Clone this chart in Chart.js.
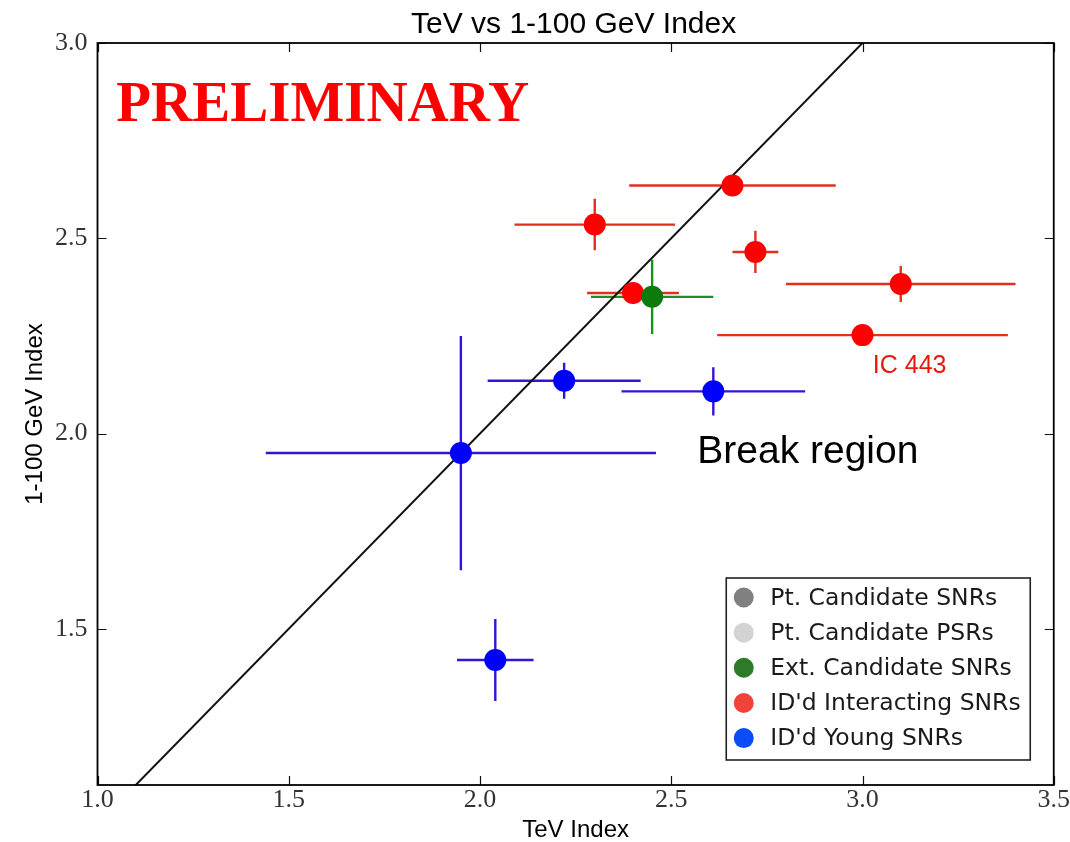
<!DOCTYPE html>
<html>
<head>
<meta charset="utf-8">
<title>TeV vs 1-100 GeV Index</title>
<script src="https://cdn.jsdelivr.net/npm/chart.js@4.4.1/dist/chart.umd.min.js"></script>
<style>
  html, body { margin: 0; padding: 0; background: #fff; }
  canvas { display: block; }
</style>
</head>
<body>
<canvas id="myChart" width="1070" height="842"></canvas>
<script>
// axis ticks
const xTicks = [1.0, 1.5, 2.0, 2.5, 3.0, 3.5];
const yTicks = [1.5, 2.0, 2.5, 3.0];
// y = x reference line, end values
const diagonal = [1.0, 3.5];

// Ext. Candidate SNRs
const extX = [2.45];
const extY = [2.35];
const extXErr = [0.16];
const extYErr = [0.095];

// ID'd Interacting SNRs
const intX = [2.66, 2.30, 2.72, 3.10, 3.00, 2.40];
const intY = [2.635, 2.535, 2.465, 2.383, 2.252, 2.36];
const intXErr = [0.27, 0.21, 0.06, 0.30, 0.38, 0.12];
const intYErr = [0, 0.066, 0.054, 0.046, 0, 0.028];

// ID'd Young SNRs
const youngX = [1.95, 2.22, 2.61, 2.04];
const youngY = [1.95, 2.135, 2.108, 1.42];
const youngXErr = [0.51, 0.20, 0.24, 0.10];
const youngYErr = [0.30, 0.046, 0.062, 0.105];

const seriesLabels = ["Pt. Candidate SNRs", "Pt. Candidate PSRs", "Ext. Candidate SNRs", "ID'd Interacting SNRs", "ID'd Young SNRs"];

const toPoints = (xs, ys) => xs.map((x, i) => ({ x, y: ys[i] }));

// error bars, inward ticks, frame, legend box and text labels
const decorations = {
  id: "decorations",
  beforeDatasetsDraw(chart) {
    const { ctx, chartArea: a, scales: { x, y } } = chart;
    ctx.save();
    ctx.beginPath();
    ctx.rect(a.left, a.top, a.right - a.left, a.bottom - a.top);
    ctx.clip();
    ctx.lineWidth = 2.4;
    chart.data.datasets.forEach((ds) => {
      if (!ds.xErr) return;
      ctx.strokeStyle = ds.barColor;
      ds.data.forEach((p, i) => {
        const px = x.getPixelForValue(p.x);
        const py = y.getPixelForValue(p.y);
        ctx.beginPath();
        ctx.moveTo(x.getPixelForValue(p.x - ds.xErr[i]), py);
        ctx.lineTo(x.getPixelForValue(p.x + ds.xErr[i]), py);
        if (ds.yErr[i] > 0) {
          ctx.moveTo(px, y.getPixelForValue(p.y - ds.yErr[i]));
          ctx.lineTo(px, y.getPixelForValue(p.y + ds.yErr[i]));
        }
        ctx.stroke();
      });
    });
    ctx.restore();
  },
  afterDraw(chart) {
    const { ctx, chartArea: a, scales: { x, y } } = chart;
    ctx.save();

    // ticks pointing inward on all four sides
    ctx.strokeStyle = "#111";
    ctx.lineWidth = 1.2;
    const tl = 9;
    ctx.beginPath();
    xTicks.forEach((v) => {
      const px = Math.round(x.getPixelForValue(v)) + 0.5;
      ctx.moveTo(px, a.top); ctx.lineTo(px, a.top + tl);
      ctx.moveTo(px, a.bottom); ctx.lineTo(px, a.bottom - tl);
    });
    yTicks.forEach((v) => {
      const py = Math.round(y.getPixelForValue(v)) + 0.5;
      ctx.moveTo(a.left, py); ctx.lineTo(a.left + tl, py);
      ctx.moveTo(a.right, py); ctx.lineTo(a.right - tl, py);
    });
    ctx.stroke();

    // frame
    ctx.lineWidth = 1.8;
    ctx.strokeStyle = "#000";
    ctx.strokeRect(a.left, a.top, a.right - a.left, a.bottom - a.top);

    // title
    ctx.fillStyle = "#000";
    ctx.font = "30px 'Liberation Sans', Arial, sans-serif";
    ctx.textAlign = "center";
    ctx.textBaseline = "alphabetic";
    ctx.fillText("TeV vs 1-100 GeV Index", (a.left + a.right) / 2 - 2, 32.5);

    // in-plot labels
    ctx.textAlign = "left";
    ctx.fillStyle = "#ff0000";
    ctx.font = "bold 57px 'Liberation Serif', 'Times New Roman', serif";
    ctx.fillText("PRELIMINARY", x.getPixelForValue(1.049), y.getPixelForValue(2.801));

    ctx.fillStyle = "#e8180c";
    ctx.font = "25px 'Liberation Sans', Arial, sans-serif";
    ctx.fillText("IC 443", x.getPixelForValue(3.027), y.getPixelForValue(2.155));

    ctx.fillStyle = "#000";
    ctx.font = "39px 'Liberation Sans', Arial, sans-serif";
    ctx.fillText("Break region", x.getPixelForValue(2.568), y.getPixelForValue(1.924));

    // legend box
    const items = chart.data.datasets.filter((ds) => ds.legendColor);
    const bw = 304, bh = 182;
    const bx = a.right - 23.5 - bw;
    const by = a.bottom - 25 - bh;
    ctx.fillStyle = "#fff";
    ctx.fillRect(bx, by, bw, bh);
    ctx.lineWidth = 1.6;
    ctx.strokeStyle = "#222";
    ctx.strokeRect(bx, by, bw, bh);
    ctx.font = "23.5px 'DejaVu Sans', sans-serif";
    ctx.textBaseline = "middle";
    items.forEach((ds, i) => {
      const cy = by + 19.5 + i * 35.15;
      ctx.fillStyle = ds.legendColor;
      ctx.beginPath();
      ctx.arc(bx + 17.5, cy, 10, 0, Math.PI * 2);
      ctx.fill();
      ctx.fillStyle = "#1a1a1a";
      ctx.fillText(ds.label, bx + 44, cy + 1);
    });

    ctx.restore();
  },
};

const chartCanvas = document.getElementById("myChart");

new Chart(chartCanvas, {
  type: "scatter",
  data: {
    datasets: [
      {
        type: "line",
        label: "y = x",
        data: diagonal.map((v) => ({ x: v, y: v })),
        borderColor: "#111",
        borderWidth: 2,
        pointRadius: 0,
        fill: false,
        order: 2,
      },
      {
        label: seriesLabels[0],
        data: [],
        legendColor: "#808080",
        backgroundColor: "#808080",
      },
      {
        label: seriesLabels[1],
        data: [],
        legendColor: "#d3d3d3",
        backgroundColor: "#d3d3d3",
      },
      {
        label: seriesLabels[2],
        data: toPoints(extX, extY),
        xErr: extXErr,
        yErr: extYErr,
        barColor: "#1f8f1f",
        legendColor: "#2d7a28",
        backgroundColor: "#0d7a0d",
        borderWidth: 0,
        pointRadius: 11,
      },
      {
        label: seriesLabels[3],
        data: toPoints(intX, intY),
        xErr: intXErr,
        yErr: intYErr,
        barColor: "#e2301c",
        legendColor: "#f0433a",
        backgroundColor: "#ff0000",
        borderWidth: 0,
        pointRadius: 11,
      },
      {
        label: seriesLabels[4],
        data: toPoints(youngX, youngY),
        xErr: youngXErr,
        yErr: youngYErr,
        barColor: "#3412d6",
        legendColor: "#0a4cf5",
        backgroundColor: "#0000ff",
        borderWidth: 0,
        pointRadius: 11,
      },
    ],
  },
  options: {
    responsive: false,
    animation: false,
    events: [],
    layout: {
      padding: { top: 43, right: 15, bottom: 0, left: 0 },
    },
    plugins: {
      legend: { display: false },
      tooltip: { enabled: false },
      title: { display: false },
    },
    scales: {
      x: {
        type: "linear",
        min: 1.0,
        max: 3.5,
        afterFit: (s) => { s.height = 57; },
        afterBuildTicks: (s) => { s.ticks = xTicks.map((v) => ({ value: v })); },
        grid: { display: false, drawTicks: false },
        border: { display: false },
        ticks: {
          padding: 0,
          color: "#333",
          font: { family: "'Liberation Serif', 'Times New Roman', serif", size: 26 },
          callback: (v) => Number(v).toFixed(1),
        },
        title: {
          display: true,
          text: "TeV Index",
          color: "#000",
          padding: { top: 0, bottom: 0 },
          font: { family: "'Liberation Sans', Arial, sans-serif", size: 24, lineHeight: 1 },
        },
      },
      y: {
        type: "linear",
        min: 1.1,
        max: 3.0,
        afterFit: (s) => { s.width = 97.5; },
        afterBuildTicks: (s) => { s.ticks = yTicks.map((v) => ({ value: v })); },
        grid: { display: false, drawTicks: false },
        border: { display: false },
        ticks: {
          padding: 10,
          color: "#333",
          font: { family: "'Liberation Serif', 'Times New Roman', serif", size: 26 },
          callback: (v) => Number(v).toFixed(1),
        },
        title: {
          display: true,
          text: "1-100 GeV Index",
          color: "#000",
          padding: { top: 23, bottom: 0 },
          font: { family: "'Liberation Sans', Arial, sans-serif", size: 24, lineHeight: 1 },
        },
      },
    },
  },
  plugins: [decorations],
});
</script>
</body>
</html>
